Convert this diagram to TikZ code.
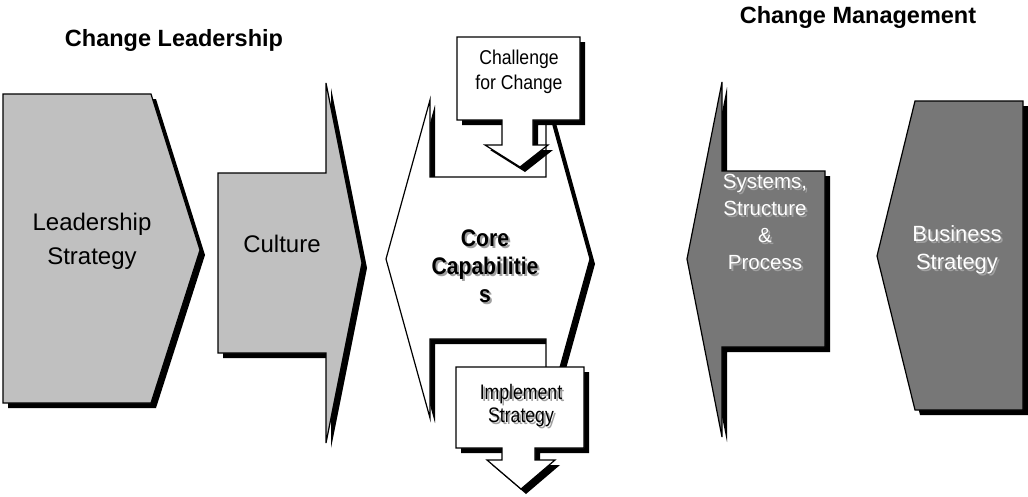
\documentclass[tikz,border=0pt]{standalone}
\usepackage{fontspec}
\setmainfont{Liberation Sans}
\newfontfamily\narrowsf[FakeStretch=0.88]{Liberation Sans}
\newfontfamily\tightsf[FakeStretch=0.84]{Liberation Sans}
\usetikzlibrary{shadows}
\definecolor{litegray}{RGB}{192,192,192}
\definecolor{deepgray}{RGB}{119,119,119}
\definecolor{txtshade}{RGB}{160,160,160}
\newcommand\fsz[2]{\fontsize{#1}{#2}\selectfont}

\begin{document}
\begin{tikzpicture}[x=1pt, y=-1pt, line width=1.2pt,
    blk/.style={draw=black, drop shadow={shadow xshift=5pt, shadow yshift=-5pt, opacity=1, fill=black}},
    lbl/.style={align=center, inner sep=0pt},
    shade/.style={lbl, text=txtshade, xshift=2pt, yshift=-2pt}]
  \useasboundingbox (0,0) rectangle (1028,496);

  % left side
  \draw[blk, fill=litegray] (3,94) -- (151,94) -- (200,250) -- (151,403) -- (3,403) -- cycle;
  \draw[blk, fill=litegray] (218,173) -- (326,173) -- (326,83) -- (362,263) --
    (326,443) -- (326,353) -- (218,353) -- cycle;

  % middle
  \draw[blk, fill=white] (430,177) -- (430,100) -- (386,259) -- (430,418) -- (430,339) --
    (546,339) -- (546,418) -- (590,259) -- (546,100) -- (546,177) -- cycle;
  \draw[blk, fill=white] (457,37) -- (580,37) -- (580,120) -- (533,120) -- (533,145) --
    (548,145) -- (520,167) -- (485,145) -- (502,145) -- (502,120) -- (457,120) -- cycle;
  \draw[blk, fill=white] (456,367) -- (584,367) -- (584,448) -- (535,448) -- (535,460) --
    (555,460) -- (521,489) -- (487,460) -- (502,460) -- (502,448) -- (456,448) -- cycle;

  % right side
  \draw[blk, fill=deepgray] (825,171) -- (722,171) -- (722,82) -- (687,259) --
    (722,437) -- (722,347) -- (825,347) -- cycle;
  \draw[blk, fill=deepgray] (877,256) -- (915,101) -- (1023,101) -- (1023,410) -- (915,410) -- cycle;

  \node[lbl, font=\fsz{23.5}{28}\bfseries] (leadhead) at (174,40) {Change Leadership};
  \node[lbl, font=\fsz{23.5}{28}\bfseries] (mgmthead) at (858,17) {Change Management};

  \node[lbl, font=\fsz{24}{34}] (lead) at (92,241) {Leadership\\Strategy};
  \node[lbl, font=\fsz{24}{30}] (cult) at (282,244) {Culture};

  \node[shade, font=\narrowsf\fsz{24}{28}\bfseries] (cores) at (485,266) {Core\\Capabilitie\\s};
  \node[lbl, font=\narrowsf\fsz{24}{28}\bfseries] (core) at (485,266) {Core\\Capabilitie\\s};

  \node[lbl, font=\narrowsf\fsz{20}{25}] (chal) at (519,72) {Challenge\\for Change};
  \node[shade, font=\tightsf\fsz{21}{23}] (impls) at (521,406) {Implement\\Strategy};
  \node[lbl, font=\tightsf\fsz{21}{23}] (impl) at (521,406) {Implement\\Strategy};

  \node[shade, font=\fsz{20.5}{27}] (syss) at (765,222) {Systems,\\Structure\\\&\\Process};
  \node[lbl, text=white, font=\fsz{20.5}{27}] (sys) at (765,222) {Systems,\\Structure\\\&\\Process};
  \node[shade, font=\fsz{22}{28}] (buss) at (957,250) {Business\\Strategy};
  \node[lbl, text=white, font=\fsz{22}{28}] (bus) at (957,250) {Business\\Strategy};
\end{tikzpicture}
\end{document}
